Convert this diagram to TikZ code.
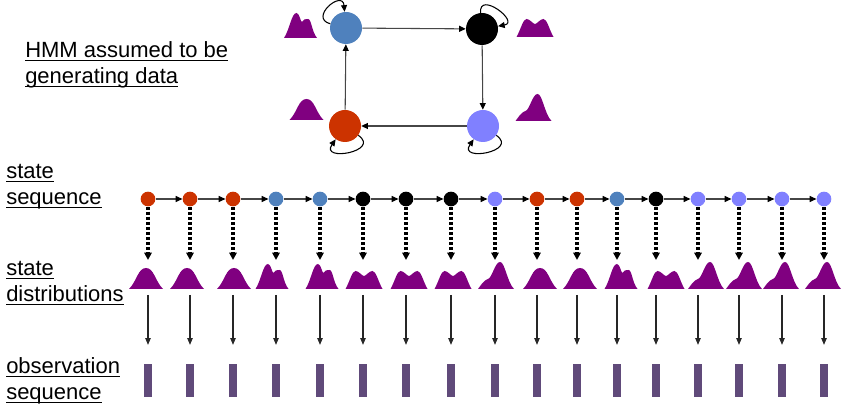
\documentclass[tikz,border=0pt]{standalone}
\usepackage{fontspec}
\setmainfont{Liberation Sans}
\usepackage{tikz}
\usetikzlibrary{arrows.meta}

\definecolor{str}{RGB}{204,51,0}
\definecolor{stb}{RGB}{79,129,189}
\definecolor{stk}{RGB}{0,0,0}
\definecolor{stl}{RGB}{128,128,255}
\definecolor{distpurple}{RGB}{128,0,128}
\definecolor{obspurple}{RGB}{96,74,122}
\definecolor{linegray}{RGB}{70,70,70}

\newcommand{\ulabel}[1]{\underline{\smash{#1}}}

\tikzset{
	pics/distr/.style={code={\fill[distpurple] (-17,0) .. controls (-9,8) and (-8,21) .. (0,21) .. controls (8,21) and (9,8) .. (17,0) -- cycle;}},
	pics/distb/.style={code={\fill[distpurple] (-16.5,0) .. controls (-11,8) and (-9,25) .. (-4,25) .. controls (-1,25) and (0,16) .. (1.5,16) .. controls (3,19) and (5,19) .. (7.5,19) .. controls (11,19) and (11,7) .. (16.5,0) -- cycle;}},
	pics/distk/.style={code={\fill[distpurple] (-18.5,0) .. controls (-14,8) and (-12,18) .. (-8.5,18) .. controls (-5,18) and (-2,13) .. (0,13) .. controls (2,13) and (5,18) .. (8.5,18) .. controls (12,18) and (14,8) .. (18.5,0) -- cycle;}},
	pics/distl/.style={code={\fill[distpurple] (-18,0) .. controls (-15,4) and (-12,9) .. (-8,10) .. controls (-4,11) and (-1,27) .. (4,27) .. controls (9,27) and (11,7) .. (18,0) -- cycle;}}
}

\begin{document}
\begin{tikzpicture}[x=0.75pt, y=0.75pt,
		hstate/.style={circle, inner sep=0pt, minimum size=24pt},
		seqstate/.style={circle, inner sep=0pt, minimum size=11pt},
		obsbar/.style={rectangle, fill=obspurple, inner sep=0pt, minimum width=6pt, minimum height=25pt},
		sidetext/.style={anchor=base west, align=left, inner sep=0pt, font=\fontsize{16.5}{19.5}\selectfont},
		grapharrow/.style={draw=linegray, line width=0.8pt, -{Triangle[length=5pt, width=4.5pt, color=black]}},
		looparrow/.style={draw=black, line width=0.8pt, -{Triangle[length=5pt, width=4.5pt]}, min distance=17pt, max distance=17pt},
		seqarrow/.style={draw=linegray, line width=0.8pt, -{Triangle[length=5pt, width=4.5pt, color=black]}},
		dotarrow/.style={draw=black, line width=2.5pt, dash pattern=on 2.4pt off 1.4pt, -{Triangle[length=5.5pt, width=5.5pt]}},
		obsarrow/.style={draw=black!85, line width=0.8pt, -{Triangle[length=5pt, width=4pt]}}]
	\useasboundingbox (0,0) rectangle (850,420);

	% the HMM itself
	\path (346,392) node[hstate, fill=stb] (blue){}
	(482,391) node[hstate, fill=stk] (black){}
	(483,294) node[hstate, fill=stl] (lilac){}
	(345,294) node[hstate, fill=str] (red){};

	\pic at (300.5,382) {distb};
	\pic at (535,383) {distk};
	\pic at (306.5,300) {distr};
	\pic at (533.5,299) {distl};

	\draw[grapharrow] (blue) -- (black);
	\draw[grapharrow] (black) -- (lilac);
	\draw[grapharrow] (lilac) -- (red);
	\draw[grapharrow] (red) -- (blue);

	\draw[looparrow] (blue) to[out=165, in=95] (blue);
	\draw[looparrow] (black) to[out=95, in=10] (black);
	\draw[looparrow, min distance=21pt, max distance=21pt] (red) to[out=-35, in=-125] (red);
	\draw[looparrow, min distance=21pt, max distance=21pt] (lilac) to[out=-35, in=-125] (lilac);

	% labels, placed at the baseline of their last line
	\node[sidetext] (hmm) at (25,336) {\ulabel{HMM assumed to be}\\\ulabel{generating data}};
	\node[sidetext] (seq) at (6,215) {\ulabel{state}\\\ulabel{sequence}};
	\node[sidetext] (dist) at (6,118) {\ulabel{state}\\\ulabel{distributions}};
	\node[sidetext] (obs) at (6,20) {\ulabel{observation}\\\ulabel{sequence}};

	% state sequence, distributions, observations
	\foreach \i/\x/\s/\d in {1/148/r/146, 2/190/r/187, 3/233/r/234, 4/276/b/272, 5/320/b/322, 6/363/k/364, 7/406/k/409, 8/451/k/453, 9/495/l/496, 10/537/r/540, 11/577/r/580, 12/617/b/621, 13/656/k/666, 14/698/l/706, 15/739/l/744, 16/782/l/781, 17/824/l/823}{
		\node[seqstate, fill=st\s] (s\i) at (\x,221) {};
		\pic at (\d,131) {dist\s};
		\coordinate (d\i) at (\x,160);
		\coordinate (a\i) at (\x,125);
		\node[obsbar] (o\i) at (\x,39.5) {};
		\draw[dotarrow] (s\i) -- (d\i);
		\draw[obsarrow, shorten >=14pt] (a\i) -- (o\i);
	}
	\foreach \i [count=\j from 2] in {1,...,16}
		\draw[seqarrow] (s\i) -- (s\j);
\end{tikzpicture}
\end{document}
